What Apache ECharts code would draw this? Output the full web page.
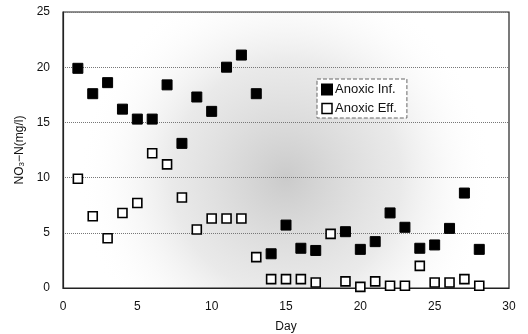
<!DOCTYPE html>
<html><head><meta charset="utf-8">
<script src="https://cdn.jsdelivr.net/npm/echarts@6/dist/echarts.min.js"></script>
<style>html,body{margin:0;padding:0;background:#fff}#c{width:528px;height:334px}</style>
</head><body><div id="c"></div>
<script>
var infDays = [1,2,3,4,5,6,7,8,9,10,11,12,13,14,15,16,17,19,20,21,22,23,24,25,26,27,28];
var infVals = [19.9,17.6,18.6,16.2,15.3,15.3,18.4,13.1,17.3,16.0,20.0,21.1,17.6,3.1,5.7,3.6,3.4,5.1,3.5,4.2,6.8,5.5,3.6,3.9,5.4,8.6,3.5];
var effDays = [1,2,3,4,5,6,7,8,9,10,11,12,13,14,15,16,17,18,19,20,21,22,23,24,25,26,27,28];
var effVals = [9.9,6.5,4.5,6.8,7.7,12.2,11.2,8.2,5.3,6.3,6.3,6.3,2.8,0.8,0.8,0.8,0.5,4.9,0.6,0.1,0.6,0.2,0.2,2.0,0.5,0.5,0.8,0.2];
var xTicks = [0,5,10,15,20,25,30];
var yTicks = [0,5,10,15,20,25];
var seriesNames = ['Anoxic Inf.','Anoxic Eff.'];

function pairs(xs, ys){ return xs.map(function(x,i){ return [x, ys[i]]; }); }

var chart = echarts.init(document.getElementById('c'), null, {renderer:'canvas'});
var font = 'Liberation Sans, Arial, sans-serif';
chart.setOption({
  animation:false,
  backgroundColor:'#fff',
  grid:{left:63, right:19, top:12, bottom:46, containLabel:false, outerBoundsMode:'none',
    show:true, borderColor:'#222', borderWidth:1.2,
    backgroundColor:{type:'radial', x:0.5, y:0.6, r:0.75,
      colorStops:[{offset:0,color:'rgba(130,130,130,0.42)'},{offset:0.55,color:'rgba(170,170,170,0.25)'},{offset:1,color:'rgba(255,255,255,0)'}]}},
  xAxis:{type:'value', min:xTicks[0], max:xTicks[xTicks.length-1], interval:5,
    name:'Day', nameLocation:'middle', nameGap:33,
    nameTextStyle:{color:'#111', fontSize:12, fontFamily:font},
    axisLine:{show:true, lineStyle:{color:'#222', width:1.2}}, axisTick:{show:false},
    axisLabel:{color:'#111', fontSize:12, fontFamily:font, margin:13},
    splitLine:{show:false}},
  yAxis:{type:'value', min:yTicks[0], max:yTicks[yTicks.length-1], interval:5,
    name:'{a|NO}{s|3}{a|−N(mg/l)}', nameLocation:'middle', nameGap:35,
    nameTextStyle:{color:'#111', fontSize:12, fontFamily:font,
      rich:{a:{fontSize:12, fontFamily:font, color:'#111'}, s:{fontSize:8, fontFamily:font, color:'#111', padding:[5,0,0,0]}}},
    axisLine:{show:true, lineStyle:{color:'#222', width:1.2}}, axisTick:{show:false},
    axisLabel:{color:'#111', fontSize:12, fontFamily:font, margin:13},
    splitLine:{show:true, lineStyle:{color:'#777', type:'dotted', width:1}}},
  legend:{show:true, left:317, top:79, orient:'vertical', itemGap:6, itemWidth:10, itemHeight:10,
    padding:[4,10,3,4], borderColor:'#666', borderWidth:1, borderType:'dashed', backgroundColor:'#fff',
    textStyle:{color:'#111', fontSize:13, fontFamily:font, padding:[0,0,0,-2]},
    data:[{name:seriesNames[0], icon:'rect', itemStyle:{color:'#000', borderColor:'#000', opacity:1}},
          {name:seriesNames[1], icon:'rect', itemStyle:{color:'#fff', borderColor:'#000', borderWidth:1.5, opacity:1}}]},
  series:[
    {name:seriesNames[0], type:'scatter', symbol:'rect', symbolSize:10,
     itemStyle:{color:'#000', borderColor:'#000', borderWidth:1, opacity:1},
     data:pairs(infDays, infVals)},
    {name:seriesNames[1], type:'scatter', symbol:'rect', symbolSize:9,
     itemStyle:{color:'#fff', borderColor:'#000', borderWidth:1.6, opacity:1},
     data:pairs(effDays, effVals)}
  ]
});
</script></body></html>
